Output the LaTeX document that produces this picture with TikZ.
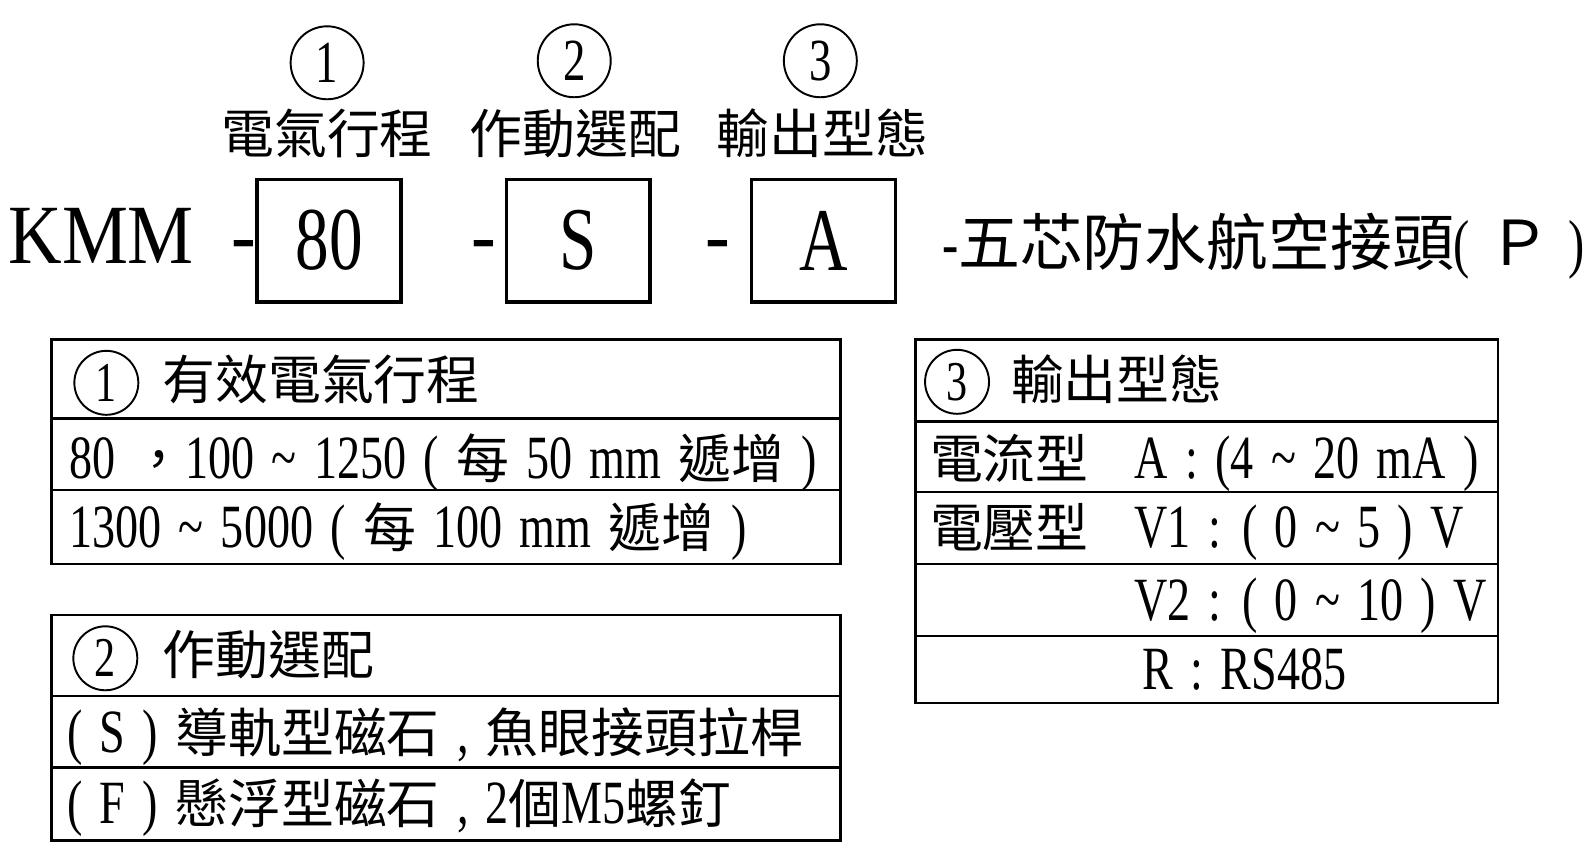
\documentclass[tikz,border=0pt]{standalone}
\usepackage{fontspec}
\setmainfont{Liberation Serif}[FakeStretch=0.75, WordSpace=1.5]
\newfontfamily\cjk{Noto Sans CJK TC}[Scale=0.86]
\newfontfamily\kmmfont{Liberation Serif}[FakeStretch=0.88]
\usetikzlibrary{positioning}
\newcommand{\zh}[1]{{\cjk #1}}
\newcommand{\fs}[1]{\fontsize{#1}{#1}\selectfont}
\newcommand{\td}{\textasciitilde}

\begin{document}
\begin{tikzpicture}[
    x=0.02026cm, y=-0.02026cm,
    numcirc/.style={circle, draw, line width=1.1pt, minimum size=1.46cm, inner sep=0pt, font=\fs{34pt}},
    smallcirc/.style={circle, draw, line width=1.1pt, minimum size=1.28cm, inner sep=0pt, font=\fs{32pt}},
    codebox/.style={rectangle, draw, line width=2pt, minimum width=2.877cm, minimum height=2.45cm, inner sep=0pt, font=\fs{51pt}},
    partlabel/.style={anchor=base, inner sep=0pt, font=\fs{35pt}\cjk},
    hyphen/.style={anchor=base, inner sep=0pt, font=\fs{48pt}\kmmfont},
    rowtext/.style={anchor=base west, inner sep=0pt, font=\fs{35pt}},
    headtext/.style={anchor=base west, inner sep=0pt, font=\fs{35pt}\cjk},
    tbl/.style={line width=1.4pt}
]
\useasboundingbox (0,0) rectangle (1568,843);

% model code
\node[anchor=base west, inner sep=0pt, font=\fs{48pt}\kmmfont] (kmm) at (8,260) {KMM};
\node[hyphen] (d1) at (241,260) {-};
\node[codebox] (b1) at (325,237.5) {80};
\node[hyphen] (d2) at (478,260) {-};
\node[codebox] (b2) at (571,237.5) {S};
\node[hyphen] (d3) at (709,260) {-};
\node[codebox] (b3) at (813,237.5) {A};
\node[anchor=base west, inner sep=0pt, font=\fs{37pt}] (tail) at (930,262)
    {-{\fs{41pt}\zh{五芯防水航空接頭}}( {\fs{41pt}\zh{Ｐ}} )};

\node[partlabel] (h1) at (323,152) {電氣行程};
\node[partlabel] (h2) at (568,152) {作動選配};
\node[partlabel] (h3) at (812,152) {輸出型態};
\node[numcirc] (n1) at (323,62) {1};
\node[numcirc] (n2) at (567,60) {2};
\node[numcirc] (n3) at (810,60) {3};

% table 1
\draw[tbl] (51,335) rectangle (830,557);
\draw[tbl] (51,413) -- (830,413);
\draw[tbl] (51,484) -- (830,484);
\node[smallcirc] (c1) at (105,378) {1};
\node[headtext] (t1h) at (160,394) {有效電氣行程};
\node[rowtext] (t1a) at (68,472) {80 \zh{，}100 \td{} 1250 ( \zh{每} 50 mm \zh{遞增} )};
\node[rowtext] (t1b) at (68,541) {1300 \td{} 5000 ( \zh{每} 100 mm \zh{遞增} )};

% table 2
\draw[tbl] (51,607) rectangle (830,830);
\draw[tbl] (51,687) -- (830,687);
\draw[tbl] (51,758) -- (830,758);
\node[smallcirc] (c2) at (104,650) {2};
\node[headtext] (t2h) at (160,666) {作動選配};
\node[rowtext] (t2a) at (66,743) {( S ) \zh{導軌型磁石} , \zh{魚眼接頭拉桿}};
\node[rowtext] (t2b) at (66,813) {( F ) \zh{懸浮型磁石} , 2\zh{個}M5\zh{螺釘}};

% table 3
\draw[tbl] (904,335) rectangle (1479,694);
\foreach \yy in {416,486,557,628}
    \draw[tbl] (904,\yy) -- (1479,\yy);
\node[smallcirc] (c3) at (945,377) {3};
\node[headtext] (t3h) at (998,394) {輸出型態};
\node[headtext] (t3a) at (918,472) {電流型};
\node[rowtext] (v1) at (1120,472) {A : (4 \td{} 20 mA )};
\node[headtext] (t3b) at (918,541) {電壓型};
\node[rowtext] (v2) at (1120,541) {V1 : ( 0 \td{} 5 ) V};
\node[rowtext] (v3) at (1120,613) {V2 : ( 0 \td{} 10 ) V};
\node[rowtext] (v4) at (1128,681) {R : RS485};
\end{tikzpicture}
\end{document}
